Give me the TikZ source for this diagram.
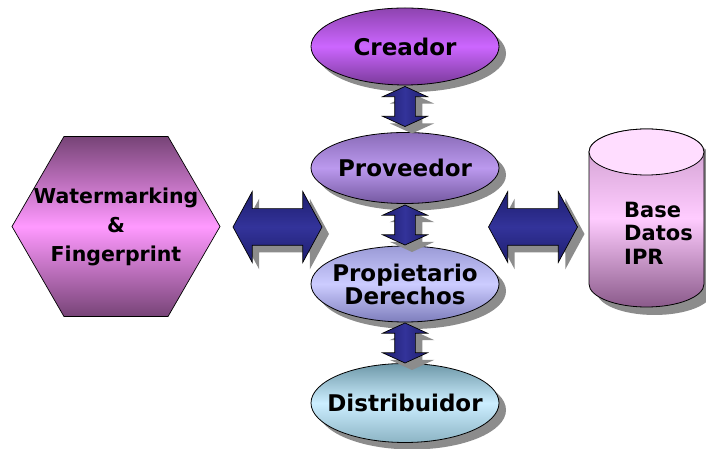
\documentclass[tikz,border=0pt]{standalone}
\usepackage{fontspec}
\setmainfont{DejaVu Sans}
\usetikzlibrary{shapes.geometric,shapes.arrows,shadows}

% fill colours
\definecolor{creTop}{HTML}{8E44B0}
\definecolor{creMid}{HTML}{CC66FF}
\definecolor{creBot}{HTML}{7A3A9A}
\definecolor{provTop}{HTML}{8A6CB8}
\definecolor{provMid}{HTML}{BB99EE}
\definecolor{provBot}{HTML}{7458A0}
\definecolor{propTop}{HTML}{9A9AD6}
\definecolor{propMid}{HTML}{CCCCFF}
\definecolor{propBot}{HTML}{7E7EBC}
\definecolor{distTop}{HTML}{6E98A8}
\definecolor{distMid}{HTML}{CCEEFF}
\definecolor{distBot}{HTML}{8CB4C4}
\definecolor{hexEdge}{HTML}{774477}
\definecolor{hexMid}{HTML}{FF99FF}
\definecolor{cylTop}{HTML}{C898C8}
\definecolor{cylMid}{HTML}{FFCCFF}
\definecolor{cylBot}{HTML}{8A5A8A}
\definecolor{cylCap}{HTML}{FFDDFF}
\definecolor{arrEdge}{HTML}{1E1E6E}
\definecolor{arrMid}{HTML}{33339A}
\definecolor{shadowGray}{HTML}{8C8C8C}

\begin{document}
\begin{tikzpicture}[x=1pt,y=1pt,
  dshadow/.style={drop shadow={shadow xshift=7pt,shadow yshift=-7pt,fill=shadowGray,opacity=1}},
  role/.style={ellipse,draw=black,line width=0.8pt,minimum width=188pt,
    inner xsep=-20pt,inner ysep=-8pt,align=center,dshadow,
    font=\fontsize{23}{25}\selectfont\bfseries},
  vlink/.style={double arrow,draw=black,line width=0.7pt,inner xsep=10pt,inner ysep=0pt,
    minimum height=40pt,minimum width=0pt,double arrow head extend=12pt,
    double arrow tip angle=131,shape border rotate=90,
    left color=arrEdge,right color=arrEdge,middle color=arrMid,dshadow},
  hlink/.style={double arrow,draw=black,line width=0.7pt,inner xsep=0pt,inner ysep=18pt,
    minimum height=89pt,minimum width=0pt,double arrow head extend=17pt,
    double arrow tip angle=123,
    top color=arrEdge,bottom color=arrEdge,middle color=arrMid,dshadow},
  boxtext/.style={font=\fontsize{20.5}{29}\selectfont\bfseries}
]
\useasboundingbox (0,0) rectangle (706,449);

% chain of roles
\node[role,minimum height=77pt,top color=creTop,bottom color=creBot,middle color=creMid]
  (creador) at (405,402.5) {Creador};
\node[role,minimum height=71pt,top color=provTop,bottom color=provBot,middle color=provMid]
  (proveedor) at (405,281) {Proveedor};
\node[role,minimum height=76pt,top color=propTop,bottom color=propBot,middle color=propMid]
  (propietario) at (405,165) {Propietario\\[-2pt]Derechos};
\node[role,minimum height=79pt,top color=distTop,bottom color=distBot,middle color=distMid]
  (distribuidor) at (405,46) {Distribuidor};

% links between roles
\node[vlink] (l1) at (405,342.5) {};
\node[vlink] (l2) at (405,224) {};
\node[vlink] (l3) at (405,106) {};

% marking system
\node[regular polygon,regular polygon sides=6,minimum size=208pt,inner sep=-25pt,
  draw=black,line width=0.7pt,top color=hexEdge,bottom color=hexEdge,middle color=hexMid,
  align=center,boxtext]
  (marca) at (116,222.5) {Watermarking\\\&\\Fingerprint};

% rights database (cylinder)
\def\cylbody{(589,297) -- (589,165) arc[start angle=180,end angle=360,x radius=57.5pt,y radius=23pt]
  -- (704,297) arc[start angle=0,end angle=180,x radius=57.5pt,y radius=23pt] -- cycle}
\fill[shadowGray,shift={(8,-8)}] \cylbody;
\draw[line width=0.8pt,top color=cylTop,bottom color=cylBot,middle color=cylMid] \cylbody;
\draw[line width=0.8pt,fill=cylCap] (646.5,297) ellipse[x radius=57.5pt,y radius=23pt];
\node[anchor=west,align=left,font=\fontsize{21}{23.5}\selectfont\bfseries,inner sep=0pt]
  (ipr) at (624,216) {Base\\Datos\\IPR};

% side links
\node[hlink] (hl) at (277.5,222) {};
\node[hlink] (hr) at (533,222) {};
\end{tikzpicture}
\end{document}
